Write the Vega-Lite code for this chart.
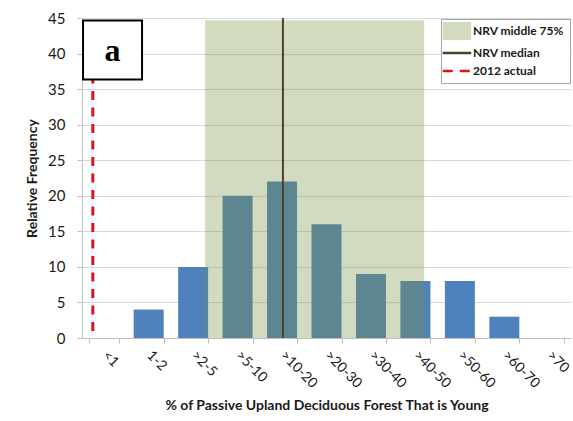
{
  "$schema": "https://vega.github.io/schema/vega-lite/v6.json",
  "width": 489,
  "height": 320,
  "autosize": {"type": "none"},
  "padding": {"left": 82, "top": 18, "right": 2, "bottom": 83},
  "background": "white",
  "config": {
    "font": "Lato",
    "view": {"stroke": null},
    "axis": {"labelColor": "#1a1a1a", "titleColor": "#1a1a1a", "domainColor": "#BFBFBF", "tickColor": "#BFBFBF", "gridColor": "#D9D9D9"},
    "axisX": {
      "tickBand": "extent", "grid": false,
      "labelAngle": 45, "labelAlign": "left", "labelBaseline": "middle",
      "labelPadding": 10, "labelFontSize": 14, "labelOverlap": false, "labelBound": false,
      "tickSize": 5,
      "titleFontSize": 14, "titleFontWeight": "bold", "titleY": 67, "titleBaseline": "middle"
    },
    "axisY": {
      "grid": true, "tickSize": 5, "labelPadding": 12, "labelFontSize": 15, "labelOverlap": false,
      "titleFontSize": 14, "titleFontWeight": "bold",
      "titleX": -50, "titleY": 160, "titleBaseline": "middle", "titleAlign": "center"
    }
  },
  "layer": [
    {
      "data": {"values": [
        {"cat": "<1", "freq": 0},
        {"cat": "1-2", "freq": 4},
        {"cat": ">2-5", "freq": 10},
        {"cat": ">5-10", "freq": 20},
        {"cat": ">10-20", "freq": 22},
        {"cat": ">20-30", "freq": 16},
        {"cat": ">30-40", "freq": 9},
        {"cat": ">40-50", "freq": 8},
        {"cat": ">50-60", "freq": 8},
        {"cat": ">60-70", "freq": 3},
        {"cat": ">70", "freq": 0}
      ]},
      "mark": {"type": "bar", "color": "#4F81BD"},
      "encoding": {
        "x": {
          "field": "cat", "type": "nominal", "sort": null,
          "scale": {"type": "band", "domain": ["<1", "1-2", ">2-5", ">5-10", ">10-20", ">20-30", ">30-40", ">40-50", ">50-60", ">60-70", ">70"], "paddingInner": 0.325, "paddingOuter": 0.1625},
          "axis": {"title": "% of Passive Upland Deciduous Forest That is Young"}
        },
        "y": {
          "field": "freq", "type": "quantitative",
          "scale": {"domain": [0, 45], "nice": false},
          "axis": {"title": "Relative Frequency", "values": [0, 5, 10, 15, 20, 25, 30, 35, 40, 45]}
        }
      }
    },
    {
      "data": {"values": [
        {"series": "NRV middle 75%", "cat": ">2-5", "cat_end": ">40-50", "freq": 44.7, "base": 0}
      ]},
      "mark": {"type": "rect", "opacity": 0.33},
      "encoding": {
        "x": {"field": "cat", "type": "nominal", "sort": null, "bandPosition": 0.9,
          "scale": {"type": "band", "domain": ["<1", "1-2", ">2-5", ">5-10", ">10-20", ">20-30", ">30-40", ">40-50", ">50-60", ">60-70", ">70"], "paddingInner": 0.325, "paddingOuter": 0.1625},
          "axis": {"title": "% of Passive Upland Deciduous Forest That is Young"}},
        "x2": {"field": "cat_end", "bandPosition": 0.79},
        "y": {"field": "freq", "type": "quantitative",
          "scale": {"domain": [0, 45], "nice": false},
          "axis": {"title": "Relative Frequency", "values": [0, 5, 10, 15, 20, 25, 30, 35, 40, 45]}},
        "y2": {"field": "base"},
        "color": {
          "field": "series", "type": "nominal",
          "scale": {"domain": ["NRV middle 75%", "NRV median", "2012 actual"], "range": ["#76923C", "#4A4330", "#D9141E"]},
          "legend": {
            "title": null,
            "orient": "top-right",
            "offset": 1,
            "padding": 6,
            "rowPadding": 6,
            "symbolSize": 361,
            "symbolOffset": 4,
            "labelOffset": 10,
            "labelFontSize": 12,
            "labelFontWeight": "bold",
            "labelColor": "#1a1a1a",
            "fillColor": "white",
            "strokeColor": "#A6A6A6",
            "encoding": {
              "symbols": {
                "shape": {"value": {"expr": "datum.value === 'NRV middle 75%' ? 'M-1.5,-0.95H1.5V0.95H-1.5Z' : 'M-1.5,0H1.5'"}},
                "size": {"value": 361},
                "fill": {"value": {"expr": "datum.value === 'NRV middle 75%' ? '#76923C' : 'transparent'"}},
                "stroke": {"value": {"expr": "datum.value === 'NRV middle 75%' ? 'transparent' : (datum.value === 'NRV median' ? '#4A4330' : '#D9141E')"}},
                "strokeDash": {"value": {"expr": "datum.value === '2012 actual' ? [10, 7] : [1, 0]"}},
                "strokeWidth": {"value": {"expr": "datum.value === 'NRV middle 75%' ? 0 : 2.5"}},
                "opacity": {"value": {"expr": "datum.value === 'NRV middle 75%' ? 0.33 : 1"}}
              }
            }
          }
        }
      }
    },
    {
      "data": {"values": [
        {"series": "NRV median", "cat": ">10-20", "freq": 45, "base": 0}
      ]},
      "mark": {"type": "rule", "strokeWidth": 2},
      "encoding": {
        "x": {"field": "cat", "type": "nominal", "sort": null, "bandPosition": 0.53,
          "scale": {"type": "band", "domain": ["<1", "1-2", ">2-5", ">5-10", ">10-20", ">20-30", ">30-40", ">40-50", ">50-60", ">60-70", ">70"], "paddingInner": 0.325, "paddingOuter": 0.1625},
          "axis": {"title": "% of Passive Upland Deciduous Forest That is Young"}},
        "y": {"field": "freq", "type": "quantitative",
          "scale": {"domain": [0, 45], "nice": false},
          "axis": {"title": "Relative Frequency", "values": [0, 5, 10, 15, 20, 25, 30, 35, 40, 45]}},
        "y2": {"field": "base"},
        "color": {"field": "series", "type": "nominal"}
      }
    },
    {
      "data": {"values": [
        {"series": "2012 actual", "cat": "<1", "freq": 44, "base": 0}
      ]},
      "mark": {"type": "rule", "strokeWidth": 3, "strokeDash": [9, 7.5]},
      "encoding": {
        "x": {"field": "cat", "type": "nominal", "sort": null, "bandPosition": 0.12,
          "scale": {"type": "band", "domain": ["<1", "1-2", ">2-5", ">5-10", ">10-20", ">20-30", ">30-40", ">40-50", ">50-60", ">60-70", ">70"], "paddingInner": 0.325, "paddingOuter": 0.1625},
          "axis": {"title": "% of Passive Upland Deciduous Forest That is Young"}},
        "y": {"field": "freq", "type": "quantitative",
          "scale": {"domain": [0, 45], "nice": false},
          "axis": {"title": "Relative Frequency", "values": [0, 5, 10, 15, 20, 25, 30, 35, 40, 45]}},
        "y2": {"field": "base"},
        "color": {"field": "series", "type": "nominal"}
      }
    },
    {
      "data": {"values": [
        {"label": "a", "cat": "<1", "freq": 40.5}
      ]},
      "mark": {"type": "point", "shape": "square", "size": 3481, "filled": true, "fill": "white", "stroke": "black", "strokeWidth": 2, "opacity": 1},
      "encoding": {
        "x": {"field": "cat", "type": "nominal", "sort": null, "bandPosition": 0.777,
          "scale": {"type": "band", "domain": ["<1", "1-2", ">2-5", ">5-10", ">10-20", ">20-30", ">30-40", ">40-50", ">50-60", ">60-70", ">70"], "paddingInner": 0.325, "paddingOuter": 0.1625},
          "axis": {"title": "% of Passive Upland Deciduous Forest That is Young"}},
        "y": {"field": "freq", "type": "quantitative",
          "scale": {"domain": [0, 45], "nice": false},
          "axis": {"title": "Relative Frequency", "values": [0, 5, 10, 15, 20, 25, 30, 35, 40, 45]}}
      }
    },
    {
      "data": {"values": [
        {"label": "a", "cat": "<1", "freq": 40.5}
      ]},
      "mark": {"type": "text", "font": "Liberation Serif", "fontSize": 32, "fontWeight": "bold", "align": "center", "baseline": "middle", "color": "black", "dy": 1},
      "encoding": {
        "x": {"field": "cat", "type": "nominal", "sort": null, "bandPosition": 0.777,
          "scale": {"type": "band", "domain": ["<1", "1-2", ">2-5", ">5-10", ">10-20", ">20-30", ">30-40", ">40-50", ">50-60", ">60-70", ">70"], "paddingInner": 0.325, "paddingOuter": 0.1625},
          "axis": {"title": "% of Passive Upland Deciduous Forest That is Young"}},
        "y": {"field": "freq", "type": "quantitative",
          "scale": {"domain": [0, 45], "nice": false},
          "axis": {"title": "Relative Frequency", "values": [0, 5, 10, 15, 20, 25, 30, 35, 40, 45]}},
        "text": {"field": "label"}
      }
    }
  ]
}
